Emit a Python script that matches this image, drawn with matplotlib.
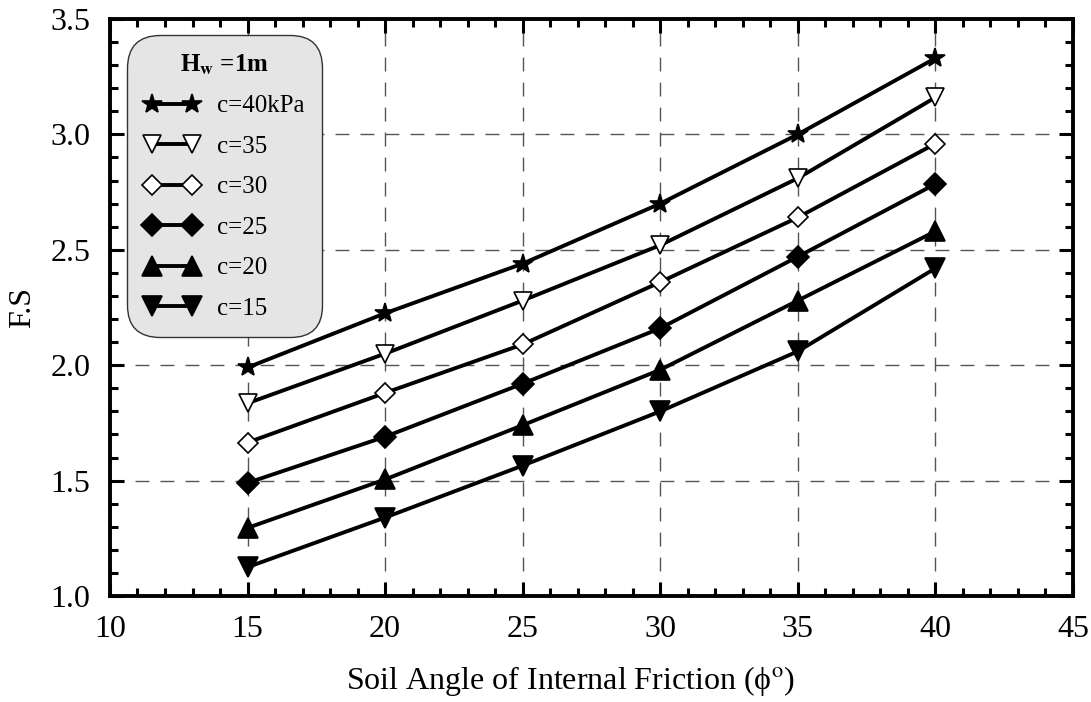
import numpy as np
import matplotlib
matplotlib.use("Agg")
import matplotlib.pyplot as plt
from matplotlib.ticker import MultipleLocator

plt.rcParams["font.family"] = ["Liberation Serif", "DejaVu Serif"]
plt.rcParams["mathtext.fontset"] = "stix"

# friction angle (deg) and factor of safety for each cohesion value
phi = [15, 20, 25, 30, 35, 40]
fs_c40 = [1.99, 2.225, 2.44, 2.70, 3.00, 3.33]
fs_c35 = [1.835, 2.05, 2.28, 2.52, 2.81, 3.16]
fs_c30 = [1.665, 1.88, 2.09, 2.36, 2.64, 2.96]
fs_c25 = [1.49, 1.69, 1.92, 2.16, 2.47, 2.785]
fs_c20 = [1.295, 1.505, 1.74, 1.98, 2.28, 2.58]
fs_c15 = [1.125, 1.34, 1.565, 1.80, 2.06, 2.42]
labels = ["c=40kPa", "c=35", "c=30", "c=25", "c=20", "c=15"]

fig = plt.figure(figsize=(10.91, 7.02), dpi=100)
ax = fig.add_axes([0.1008, 0.151, 0.8827, 0.822])

series = [fs_c40, fs_c35, fs_c30, fs_c25, fs_c20, fs_c15]
styles = [
    dict(marker="*", mfc="black", ms=15),
    dict(marker="v", mfc="white", ms=13),
    dict(marker="D", mfc="white", ms=10),
    dict(marker="D", mfc="black", ms=11),
    dict(marker="^", mfc="black", ms=14),
    dict(marker="v", mfc="black", ms=14),
]
for ys, lab, st in zip(series, labels, styles):
    ax.plot(phi, ys, color="black", lw=2.8, mec="black", mew=1.2,
            label=lab, zorder=3, **st)

ax.set_xlim(10, 45)
ax.set_ylim(1.0, 3.5)
ax.xaxis.set_major_locator(MultipleLocator(5))
ax.xaxis.set_minor_locator(MultipleLocator(1))
ax.yaxis.set_major_locator(MultipleLocator(0.5))
ax.yaxis.set_minor_locator(MultipleLocator(0.1))
ax.yaxis.set_major_formatter(plt.FormatStrFormatter("%.1f"))

ax.grid(True, which="major", color="#555555", lw=1.0, ls=(0, (10, 8)), zorder=1)
ax.tick_params(which="both", direction="in", top=True, right=True,
               labelsize=23, width=2.2, pad=14)
ax.tick_params(which="major", length=10)
ax.tick_params(which="minor", length=6)
for sp in ax.spines.values():
    sp.set_linewidth(2.8)

ax.set_xlabel("Soil Angle of Internal Friction (\u03d5${}^{\\mathrm{o}}$)", fontsize=23)
ax.xaxis.set_label_coords(0.478, -0.148, transform=ax.transAxes)
ax.xaxis.label.set_va("center")
ax.set_ylabel("F.S", fontsize=23, labelpad=10)

leg = ax.legend(loc="upper left", bbox_to_anchor=(0.01, 0.985), numpoints=2,
                handlelength=2.2, handletextpad=0.7, fontsize=18,
                title="H$_\\mathbf{w}$ =1m",
                title_fontproperties={"weight": "bold", "size": 18},
                facecolor="#e5e5e5", edgecolor="#333333", framealpha=1,
                fancybox=True, labelspacing=0.72, borderpad=0.5)
leg.get_frame().set_boxstyle("round", pad=0.2, rounding_size=1.3)
leg.get_frame().set_linewidth(1.0)

fig.savefig("out.png", dpi=100)
